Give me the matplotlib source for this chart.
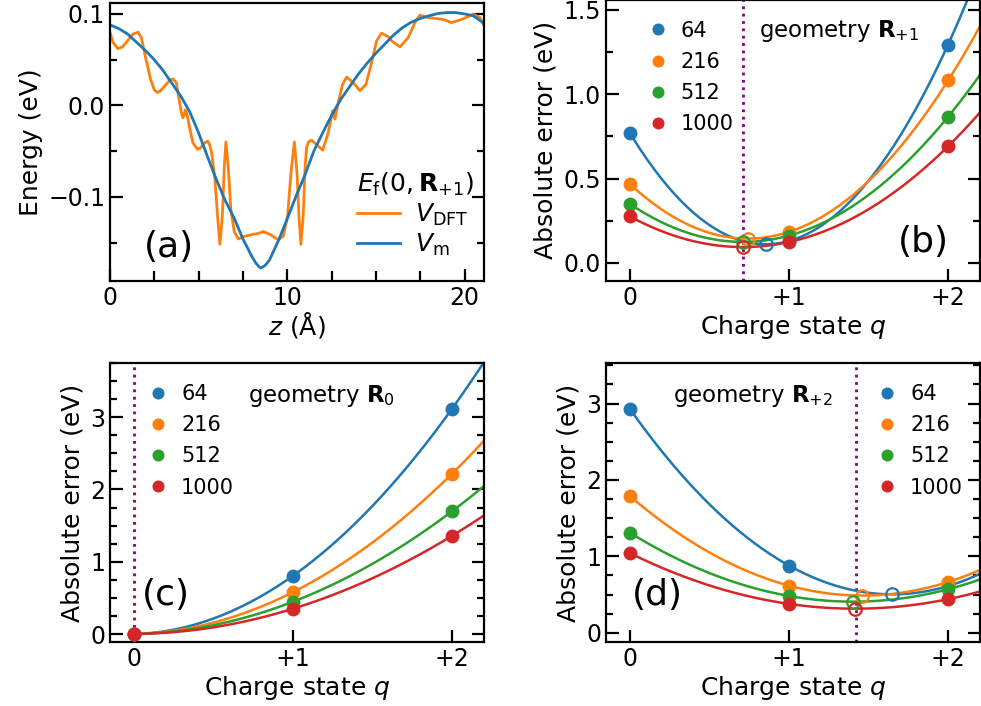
import numpy as np
import matplotlib
matplotlib.use("Agg")
import matplotlib.pyplot as plt
from matplotlib.ticker import MultipleLocator, FixedLocator, FixedFormatter

plt.rcParams['font.family'] = ['DejaVu Sans']
plt.rcParams['mathtext.fontset'] = 'dejavusans'

# ---------------- data ----------------
# panel (a): planar-averaged potentials along z
z_dft = [0.0, 0.17, 0.45, 0.7, 0.92, 1.30, 1.58, 1.77, 1.99, 2.29, 2.5, 2.67, 2.85, 3.08,
         3.35, 3.55, 3.74, 3.93, 4.05, 4.12, 4.18, 4.25, 4.32, 4.40, 4.55, 4.68, 4.93, 5.08,
         5.34, 5.51, 5.62, 5.74, 5.92, 6.07, 6.20, 6.34, 6.45, 6.54, 6.67, 6.82, 7.01, 7.24,
         7.61, 8.08, 8.37, 8.65, 9.02, 9.50, 9.78, 10.02, 10.21, 10.40, 10.55, 10.66, 10.77,
         10.90, 11.0, 11.09, 11.2, 11.37, 11.66, 12.0, 12.31, 12.56, 12.69, 12.88, 13.12,
         13.35, 13.72, 14.10, 14.44, 14.76, 15.04, 15.32, 15.51, 15.70, 15.89, 16.36, 16.82,
         17.20, 17.48, 17.95, 18.8, 19.27, 19.84, 20.49, 20.87, 21.05, 21.1]
v_dft = [0.080, 0.069, 0.062, 0.064, 0.069, 0.078, 0.080, 0.074, 0.054, 0.0285, 0.017, 0.014,
         0.016, 0.021, 0.027, 0.029, 0.025, 0.003, -0.010, -0.0135, -0.010, -0.005, -0.008,
         -0.015, -0.030, -0.041, -0.048, -0.047, -0.041, -0.039, -0.043, -0.052, -0.081,
         -0.121, -0.152, -0.121, -0.067, -0.040, -0.067, -0.114, -0.138, -0.146, -0.143,
         -0.141, -0.140, -0.138, -0.141, -0.147, -0.143, -0.121, -0.074, -0.040, -0.074,
         -0.121, -0.152, -0.121, -0.070, -0.046, -0.040, -0.038, -0.043, -0.049, -0.030,
         -0.006, -0.015, 0.003, 0.023, 0.031, 0.025, 0.016, 0.023, 0.047, 0.0705, 0.079,
         0.077, 0.075, 0.0705, 0.064, 0.074, 0.0905, 0.0987, 0.096, 0.094, 0.0905, 0.094,
         0.0998, 0.096, 0.089, 0.087]
z_m = [0.0, 0.5, 1.0, 1.5, 2.0, 2.5, 3.0, 3.5, 4.0, 4.5, 5.0, 5.5, 6.0, 6.5, 7.0, 7.5, 8.0,
       8.25, 8.5, 8.75, 9.0, 9.5, 10.0, 10.5, 11.0, 11.5, 12.0, 12.5, 13.0, 13.5, 14.0, 14.5,
       15.0, 15.5, 16.0, 16.5, 17.0, 17.5, 18.0, 18.5, 19.0, 19.5, 20.0, 20.5, 21.0, 21.1]
v_m = [0.088, 0.084, 0.078, 0.069, 0.060, 0.050, 0.038, 0.024, 0.010, -0.007, -0.030, -0.056,
       -0.081, -0.104, -0.123, -0.146, -0.165, -0.173, -0.178, -0.175, -0.169, -0.148,
       -0.124, -0.099, -0.076, -0.050, -0.030, -0.011, 0.006, 0.020, 0.034, 0.046, 0.057,
       0.067, 0.077, 0.085, 0.091, 0.095, 0.098, 0.1005, 0.1015, 0.1015, 0.100, 0.098,
       0.091, 0.089]

# panels (b)-(d): absolute error vs charge state, per supercell size
charge_states = [0, 1, 2]
sizes = ['64', '216', '512', '1000']
colors = ['#1f77b4', '#ff7f0e', '#2ca02c', '#d62728']

err_Rp1 = {'64': [0.77, 0.13, 1.294], '216': [0.468, 0.184, 1.081],
           '512': [0.35, 0.162, 0.866], '1000': [0.276, 0.124, 0.691]}
err_R0 = {'64': [0.0, 0.806, 3.12], '216': [0.0, 0.58, 2.22],
          '512': [0.0, 0.447, 1.70], '1000': [0.0, 0.35, 1.36]}
err_Rp2 = {'64': [2.93, 0.88, 0.612], '216': [1.79, 0.617, 0.665],
           '512': [1.31, 0.482, 0.57], '1000': [1.043, 0.378, 0.44]}

vline_Rp1 = 0.71
vline_R0 = 0.0
vline_Rp2 = 1.42

q_ticklabels = ['0', '+1', '+2']

# ---------------- figure ----------------
fig = plt.figure(figsize=(9.81, 7.06), dpi=100)
axA = fig.add_axes([0.1121, 0.602, 0.3813, 0.3938])
axB = fig.add_axes([0.6177, 0.602, 0.3812, 0.3985])
axC = fig.add_axes([0.1121, 0.0907, 0.3813, 0.3951])
axD = fig.add_axes([0.6177, 0.0907, 0.3812, 0.3951])

TICK_FS = 17
LABEL_FS = 18


def style_axis(ax):
    for s in ax.spines.values():
        s.set_linewidth(1.6)
    ax.tick_params(which='both', direction='in', right=True, top=False,
                   labelsize=TICK_FS, width=1.6)
    ax.tick_params(which='major', length=9)
    ax.tick_params(which='minor', length=5)


# panel (a)
axA.plot(z_dft, v_dft, color='#ff7f0e', lw=2.0, solid_joinstyle='round',
         label=r'$V_{\mathrm{DFT}}$')
axA.plot(z_m, v_m, color='#1f77b4', lw=2.0, solid_joinstyle='round',
         label=r'$V_{\mathrm{m}}$')
axA.set_xlim(0, 21.1)
axA.set_ylim(-0.192, 0.112)
axA.xaxis.set_major_locator(MultipleLocator(10))
axA.xaxis.set_minor_locator(MultipleLocator(2.5))
axA.yaxis.set_major_locator(MultipleLocator(0.1))
axA.yaxis.set_minor_locator(MultipleLocator(0.05))
style_axis(axA)
axA.tick_params(axis='x', which='minor', length=7)
axA.set_xlabel(r'$z$ (Å)', fontsize=LABEL_FS, labelpad=0)
axA.set_ylabel('Energy (eV)', fontsize=LABEL_FS)
leg = axA.legend(title=r'$E_{\mathrm{f}}(0,\mathbf{R}_{+1})$', frameon=False,
                 fontsize=18, title_fontsize=18, loc='lower right',
                 bbox_to_anchor=(1.02, 0.02), handlelength=1.7, handletextpad=0.6,
                 labelspacing=0.15, borderaxespad=0.3)
leg._legend_box.align = 'left'
axA.text(0.09, 0.085, '(a)', transform=axA.transAxes, fontsize=26)


def err_panel(ax, data, vline, ylim, ymaj, ymin, label, geo_text, geo_xy, leg_anchor):
    ax.axvline(vline, color='purple', ls=':', lw=2.0, zorder=1)
    qq = np.linspace(0, 2.3, 300)
    handles = []
    for s, c in zip(sizes, colors):
        y = data[s]
        coef = np.polyfit(charge_states, y, 2)
        ax.plot(qq, np.polyval(coef, qq), color=c, lw=1.8, zorder=2)
        qmin = -coef[1] / (2 * coef[0])
        if 0 < qmin < 2.2 and abs(qmin) > 0.05:
            ax.plot([qmin], [np.polyval(coef, qmin)], 'o', mfc='none', mec=c,
                    ms=9, mew=1.6, zorder=3)
        h, = ax.plot(charge_states, y, 'o', color=c, ms=9, zorder=4, label=s)
        handles.append(h)
    ax.set_xlim(-0.15, 2.2)
    ax.set_ylim(*ylim)
    ax.xaxis.set_major_locator(FixedLocator(charge_states))
    ax.xaxis.set_major_formatter(FixedFormatter(q_ticklabels))
    ax.yaxis.set_major_locator(MultipleLocator(ymaj))
    ax.yaxis.set_minor_locator(MultipleLocator(ymin))
    style_axis(ax)
    ax.set_xlabel(r'Charge state $q$', fontsize=LABEL_FS, labelpad=2)
    ax.set_ylabel('Absolute error (eV)', fontsize=LABEL_FS)
    ax.legend(handles=handles, frameon=False, fontsize=15, loc='upper left',
              bbox_to_anchor=leg_anchor, handlelength=0.6, handletextpad=0.8,
              labelspacing=0.54, markerscale=0.85, borderaxespad=0.0)
    ax.text(*geo_xy, geo_text, transform=ax.transAxes, fontsize=16.5, va='center')
    ax.text(*label[1], label[0], transform=ax.transAxes, fontsize=26, va='center')


err_panel(axB, err_Rp1, vline_Rp1, (-0.107, 1.56), 0.5, 0.25,
          ('(b)', (0.78, 0.14)), r'geometry $\mathbf{R}_{+1}$', (0.41, 0.89), (0.099, 0.955))
err_panel(axC, err_R0, vline_R0, (-0.11, 3.75), 1, 0.25,
          ('(c)', (0.085, 0.17)), r'geometry $\mathbf{R}_{0}$', (0.37, 0.88), (0.09, 0.955))
err_panel(axD, err_Rp2, vline_Rp2, (-0.12, 3.53), 1, 0.25,
          ('(d)', (0.07, 0.17)), r'geometry $\mathbf{R}_{+2}$', (0.18, 0.88), (0.713, 0.955))

fig.savefig('out.png', dpi=100)
